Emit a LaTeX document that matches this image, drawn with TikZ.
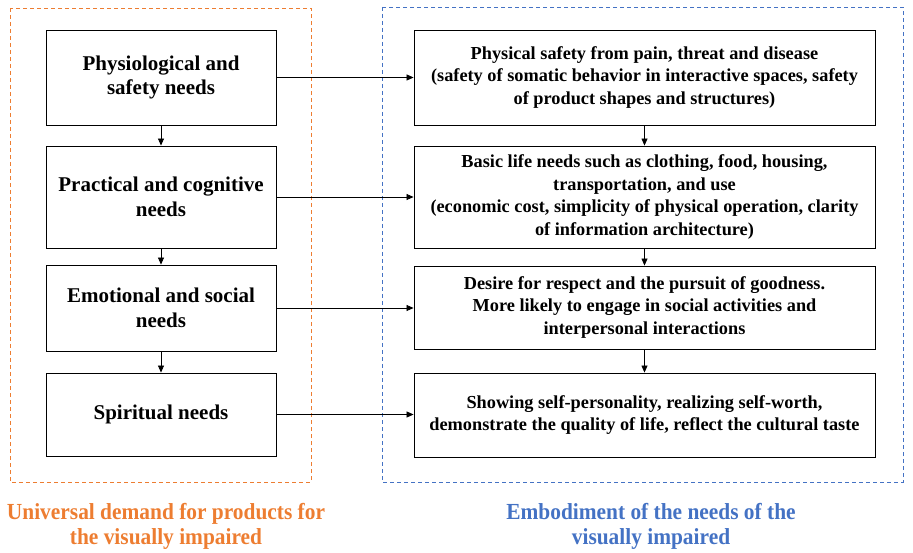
\documentclass[tikz,border=0pt]{standalone}
\usepackage{fontspec}
\setmainfont{Liberation Serif}
\usetikzlibrary{arrows.meta}
\definecolor{orng}{RGB}{237,125,49}
\definecolor{blu}{RGB}{68,114,196}
\begin{document}
\begin{tikzpicture}[x=1pt,y=-1pt,
  box/.style={draw,line width=0.9pt,inner sep=0pt,align=center},
  lbox/.style={box,minimum width=230,font=\fontsize{21}{24.5}\selectfont\bfseries},
  rbox/.style={box,minimum width=461,font=\fontsize{18.3}{22.5}\selectfont\bfseries},
  arr/.style={-{Triangle[length=7pt,width=6pt]},line width=0.7pt},
  grp/.style={line width=0.8pt,dash pattern=on 4pt off 3pt},
  captxt/.style={align=center,font=\fontsize{23}{25}\selectfont\bfseries}]
\useasboundingbox (0,0) rectangle (913,553);
\draw[grp,orng] (10,8) rectangle (311,482);
\draw[grp,blu] (382,7) rectangle (903,482);
\node[lbox,minimum height=95] (l1) at (161,77.5) {Physiological and\\safety needs};
\node[lbox,minimum height=102] (l2) at (161,197) {Practical and cognitive\\needs};
\node[lbox,minimum height=86] (l3) at (161,308) {Emotional and social\\needs};
\node[lbox,minimum height=83] (l4) at (161,414.5) {Spiritual needs};
\node[rbox,minimum height=95] (r1) at (644.5,77.5) {Physical safety from pain, threat and disease\\(safety of somatic behavior in interactive spaces, safety\\of product shapes and structures)};
\node[rbox,minimum height=102] (r2) at (644.5,197) {Basic life needs such as clothing, food, housing,\\transportation, and use\\(economic cost, simplicity of physical operation, clarity\\of information architecture)};
\node[rbox,minimum height=83] (r3) at (644.5,307.5) {Desire for respect and the pursuit of goodness.\\More likely to engage in social activities and\\interpersonal interactions};
\node[rbox,minimum height=84] (r4) at (644.5,415) {Showing self-personality, realizing self-worth,\\demonstrate the quality of life, reflect the cultural taste};
\draw[arr] (l1) -- (l2);
\draw[arr] (l2) -- (l3);
\draw[arr] (l3) -- (l4);
\draw[arr] (r1) -- (r2);
\draw[arr] (r2) -- (r3);
\draw[arr] (r3) -- (r4);
\draw[arr] (l1.east) -- (r1.west);
\draw[arr] (l2.east) -- (r2.west);
\draw[arr] (l3.east) -- (r3.west|-l3.east);
\draw[arr] (l4.east) -- (r4.west|-l4.east);
\node[captxt,text=orng] (t1) at (166,526) {\scalebox{0.93}[1]{Universal demand for products for}\\\scalebox{0.93}[1]{the visually impaired}};
\node[captxt,text=blu] (t2) at (651,526) {\scalebox{0.93}[1]{Embodiment of the needs of the}\\\scalebox{0.93}[1]{visually impaired}};
\end{tikzpicture}
\end{document}
